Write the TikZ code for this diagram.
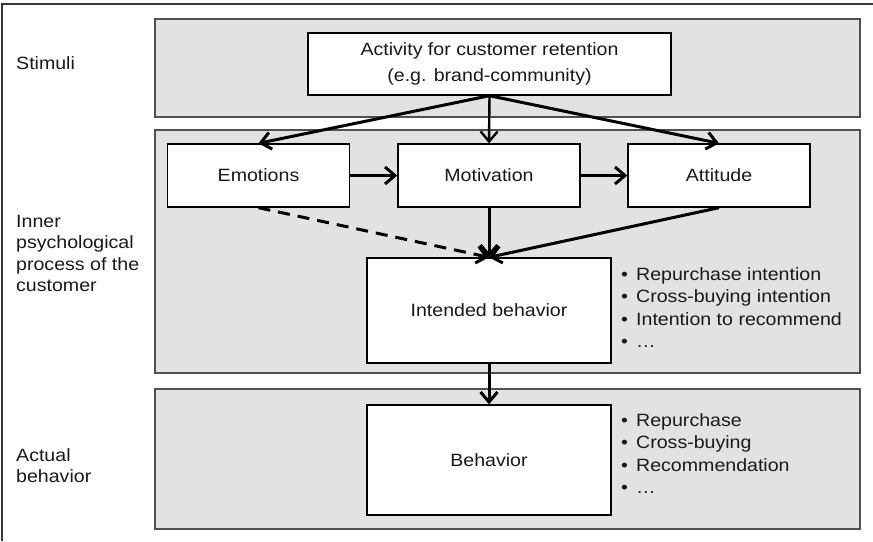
\documentclass[tikz,border=0pt]{standalone}
\usepackage{fontspec}
\setmainfont[FakeStretch=1.1]{Liberation Sans}
\usetikzlibrary{arrows.meta}
\definecolor{bandfill}{RGB}{226,226,226}
\definecolor{bandline}{RGB}{80,80,80}
\definecolor{framegray}{RGB}{55,55,55}
\definecolor{inkdark}{RGB}{25,25,25}
\newcommand{\itembul}{\makebox[15pt][l]{\textbullet}}
\begin{document}
\begin{tikzpicture}[x=1pt,y=-1pt,
  every node/.style={text=inkdark},
  band/.style={draw=bandline, line width=1.6pt, fill=bandfill, inner sep=0pt, minimum width=705pt},
  stage/.style={draw=black, line width=1.4pt, fill=white, inner sep=0pt,
    minimum width=182pt, minimum height=63pt, align=center,
    font=\fontsize{17.8}{26}\selectfont},
  arr/.style={line width=3pt, -{Straight Barb[length=10pt,width=17pt]}},
  lbl/.style={inner sep=0pt, align=left, font=\fontsize{17.8}{21.5}\selectfont},
  items/.style={inner sep=0pt, align=left, font=\fontsize{17.8}{22.5}\selectfont},
]
\useasboundingbox (0,0) rectangle (873,541);

% outer frame (top and left edges)
\coordinate (frameTR) at (873,4);
\coordinate (frameTL) at (2,4);
\coordinate (frameBL) at (2,541);
\draw[framegray, line width=1.6pt] (frameTR) -- (frameTL) -- (frameBL);

% layer bands
\node[band, minimum height=98pt]  (stim)   at (507.5,68)    {};
\node[band, minimum height=243pt] (inner)  at (507.5,251.5) {};
\node[band, minimum height=140pt] (actual) at (507.5,459)   {};

% layer labels
\node[lbl, anchor=base west] (lstim) at (16,69) {Stimuli};
\node[lbl, anchor=north west] (linner) at (16,215) {Inner\\psychological\\process of the\\customer};
\node[lbl, anchor=north west] (lactual) at (16,448) {Actual\\behavior};

% boxes
\node[stage, minimum width=363pt, minimum height=62pt] (act) at (489.5,64)
  {Activity for customer retention\\(e.g. brand-community)};
\node[stage] (emo) at (258.5,175.5) {Emotions};
\node[stage] (mot) at (489,175.5) {Motivation};
\node[stage] (att) at (719,175.5) {Attitude};
\node[stage, minimum width=244pt, minimum height=105pt] (int) at (489,310.5) {Intended behavior};
\node[stage, minimum width=244pt, minimum height=110pt] (beh) at (489,460) {Behavior};

% item lists
\node[items, anchor=north west] (intlist) at (621,267)
  {\itembul Repurchase intention\\\itembul Cross-buying intention\\\itembul Intention to recommend\\\itembul \ldots};
\node[items, anchor=north west] (behlist) at (621,413)
  {\itembul Repurchase\\\itembul Cross-buying\\\itembul Recommendation\\\itembul \ldots};

% connectors
\draw[arr] (act.south) -- (emo.north);
\draw[arr, line width=2.4pt] (act.south) -- (mot.north);
\draw[arr] (act.south) -- (att.north);
\draw[arr] (emo.east) -- (mot.west);
\draw[arr] (mot.east) -- (att.west);
\draw[arr, dash pattern=on 12pt off 8pt] (emo.south) -- (int.north);
\draw[arr] (mot.south) -- (int.north);
\draw[arr] (att.south) -- (int.north);
\draw[arr] (int.south) -- (beh.north);
\end{tikzpicture}
\end{document}
